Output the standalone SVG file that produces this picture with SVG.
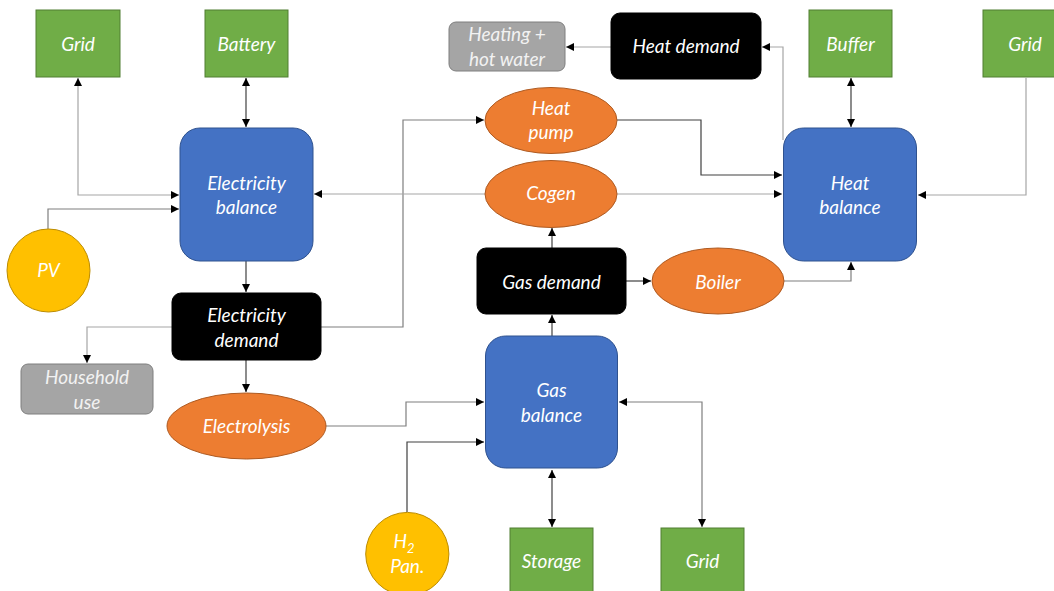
<svg xmlns="http://www.w3.org/2000/svg" width="1054" height="591" viewBox="0 0 1054 591">
<style>
text{font-family:Lato,"Open Sans","Liberation Sans",sans-serif;font-style:italic;font-size:19px;fill:#fff;text-anchor:middle}
.g{fill:#70ad47;stroke:#507e32;stroke-width:1}
.b{fill:#4472c4;stroke:#2f528f;stroke-width:1}
.o{fill:#ed7d31;stroke:#ae5a21;stroke-width:1}
.y{fill:#ffc000;stroke:#bc8c00;stroke-width:1}
.k{fill:#000;stroke:#000}
.gr{fill:#a5a5a5;stroke:#7f7f7f;stroke-width:1}
.c{fill:none;stroke-width:1.2}
.d{stroke:#404040}
.m{stroke:#7f7f7f}
.l{stroke:#a6a6a6}
</style>
<defs>
<marker id="a" viewBox="0 0 10 10" refX="10" refY="5" markerWidth="8" markerHeight="8" markerUnits="userSpaceOnUse" orient="auto-start-reverse"><path d="M0,0L10,5L0,10z" fill="#000"/></marker>
</defs>
<g id="connectors">
<path class="c l" d="M78,78V195H179" marker-start="url(#a)" marker-end="url(#a)"/>
<path class="c d" d="M246,78V127" marker-start="url(#a)" marker-end="url(#a)"/>
<path class="c m" d="M48,229V209H179" marker-end="url(#a)"/>
<path class="c d" d="M246,261V292" marker-end="url(#a)"/>
<path class="c l" d="M172,327H87V363" marker-end="url(#a)"/>
<path class="c d" d="M246,360V392" marker-end="url(#a)"/>
<path class="c m" d="M321,327H403V120H484" marker-end="url(#a)"/>
<path class="c m" d="M326,426H406V402H484" marker-end="url(#a)"/>
<path class="c d" d="M407,512V442H484" marker-end="url(#a)"/>
<path class="c l" d="M485,194H314" marker-end="url(#a)"/>
<path class="c l" d="M617,194H782" marker-end="url(#a)"/>
<path class="c d" d="M617,120H701V175H782" marker-end="url(#a)"/>
<path class="c d" d="M552,248V228" marker-end="url(#a)"/>
<path class="c d" d="M626,281H651" marker-end="url(#a)"/>
<path class="c m" d="M784,281H851V262" marker-end="url(#a)"/>
<path class="c d" d="M552,336V315" marker-end="url(#a)"/>
<path class="c d" d="M552,470V527" marker-start="url(#a)" marker-end="url(#a)"/>
<path class="c m" d="M619,402H702V527" marker-start="url(#a)" marker-end="url(#a)"/>
<path class="c d" d="M851,78V127" marker-start="url(#a)" marker-end="url(#a)"/>
<path class="c l" d="M1026,78V195H918" marker-end="url(#a)"/>
<path class="c l" d="M783,140V47H762" marker-end="url(#a)"/>
<path class="c l" d="M611,47H566" marker-end="url(#a)"/>
</g>
<g id="grid-e"><rect class="g" x="36" y="10" width="84" height="67"/><text x="78" y="51">Grid</text></g>
<g id="battery"><rect class="g" x="205" y="10" width="83" height="67"/><text x="246.5" y="51">Battery</text></g>
<g id="elec-balance"><rect class="b" x="180" y="128" width="133" height="133" rx="20"/><text x="246.5" y="190">Electricity</text><text x="246.5" y="214">balance</text></g>
<g id="pv"><circle class="y" cx="48.5" cy="270.5" r="41.5"/><text x="48.5" y="277">PV</text></g>
<g id="elec-demand"><rect class="k" x="172" y="293" width="149" height="67" rx="9"/><text x="246.5" y="322">Electricity</text><text x="246.5" y="347">demand</text></g>
<g id="household"><rect class="gr" x="21" y="364" width="132" height="50" rx="7"/><text x="87" y="384" style="fill:#f2f2f2">Household</text><text x="87" y="409" style="fill:#f2f2f2">use</text></g>
<g id="electrolysis"><ellipse class="o" cx="246.5" cy="426" rx="79.5" ry="33"/><text x="246.5" y="433">Electrolysis</text></g>
<g id="heating"><rect class="gr" x="449" y="22" width="116" height="49" rx="7"/><text x="507" y="41" style="fill:#f2f2f2">Heating +</text><text x="507" y="66" style="fill:#f2f2f2">hot water</text></g>
<g id="heat-demand"><rect class="k" x="611" y="13" width="150" height="66" rx="9"/><text x="686" y="53">Heat demand</text></g>
<g id="heat-pump"><ellipse class="o" cx="551" cy="120.5" rx="66" ry="33"/><text x="551" y="115">Heat</text><text x="551" y="139">pump</text></g>
<g id="cogen"><ellipse class="o" cx="551" cy="194" rx="66" ry="33.5"/><text x="551" y="200">Cogen</text></g>
<g id="gas-demand"><rect class="k" x="477" y="248" width="149" height="66" rx="9"/><text x="551.5" y="289">Gas demand</text></g>
<g id="boiler"><ellipse class="o" cx="718" cy="281" rx="66" ry="33"/><text x="718" y="289">Boiler</text></g>
<g id="gas-balance"><rect class="b" x="485.5" y="336" width="132" height="132" rx="20"/><text x="551.5" y="397">Gas</text><text x="551.5" y="422">balance</text></g>
<g id="h2"><circle class="y" cx="407.3" cy="554" r="41.6"/><text x="404" y="548">H<tspan dy="5" font-size="13">2</tspan></text><text x="407.3" y="573">Pan.</text></g>
<g id="storage"><rect class="g" x="510" y="528" width="83" height="67"/><text x="551.5" y="568">Storage</text></g>
<g id="grid-g"><rect class="g" x="661" y="528" width="83" height="67"/><text x="702.5" y="568">Grid</text></g>
<g id="heat-balance"><rect class="b" x="783.5" y="128" width="133" height="133" rx="20"/><text x="850" y="190">Heat</text><text x="850" y="214">balance</text></g>
<g id="buffer"><rect class="g" x="809" y="10" width="83" height="67"/><text x="850.5" y="51">Buffer</text></g>
<g id="grid-h"><rect class="g" x="983" y="10" width="84" height="67"/><text x="1025" y="51">Grid</text></g>
</svg>
